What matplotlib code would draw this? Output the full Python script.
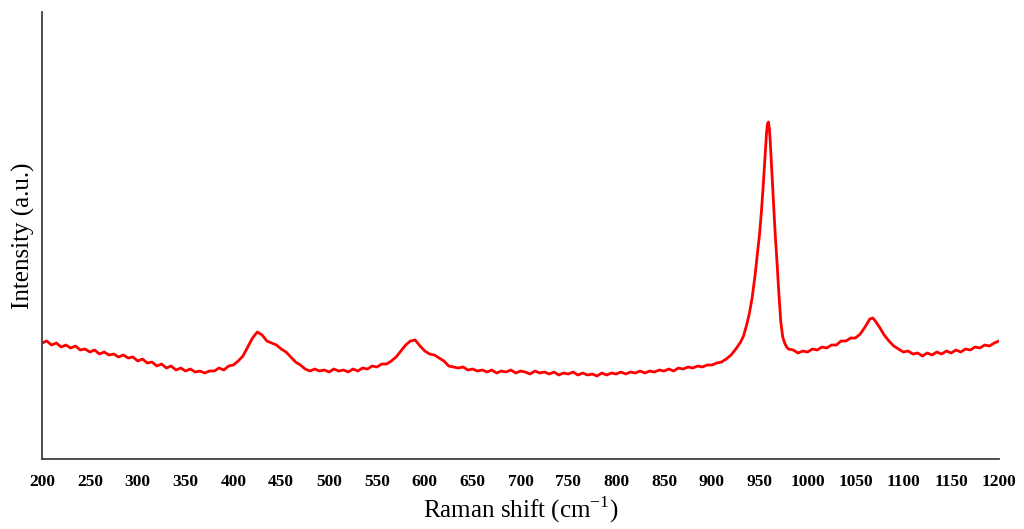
import matplotlib
matplotlib.use("Agg")
import matplotlib.pyplot as plt

plt.rcParams["mathtext.fontset"] = "custom"
plt.rcParams["mathtext.rm"] = "Liberation Serif"

# Raman shift (cm-1)
shift_a = list(range(200, 930, 5))
intens_a = [116, 118, 114, 116, 112, 114, 111, 113, 109, 110, 107, 109, 105, 107, 104, 105, 102, 104, 101, 102,
            98, 100, 96, 97, 93, 95, 91, 93, 89, 91, 88, 90, 87, 88, 86, 88, 88, 91, 89, 93,
            94, 98, 103, 112, 121, 127, 124, 118, 116, 114, 110, 107, 102, 97, 94, 90, 88, 90, 88, 89,
            87, 90, 88, 89, 87, 90, 88, 91, 90, 93, 92, 95, 95, 98, 102, 108, 114, 118, 119, 113,
            108, 105, 104, 101, 98, 93, 92, 91, 92, 89, 90, 88, 89, 87, 89, 86, 88, 87, 89, 86,
            88, 87, 85, 88, 86, 87, 85, 87, 84, 86, 85, 87, 84, 86, 84, 85, 83, 86, 84, 86,
            85, 87, 85, 87, 86, 88, 86, 88, 87, 89, 88, 90, 88, 91, 90, 92, 91, 93, 92, 94,
            94, 96, 97, 100, 104, 110]
shift_b = [930, 933, 936, 939, 942, 945, 948, 950, 952, 954, 956, 957, 958, 959, 960, 961, 962,
           964, 966, 968, 970, 972, 974, 976, 978, 980]
intens_b = [117, 123, 133, 145, 161, 183, 209, 227, 251, 279, 309, 325, 335, 337, 331, 317, 299,
            263, 227, 197, 165, 137, 122, 116, 112, 110]
shift_c = list(range(985, 1070, 5)) + [1068] + list(range(1070, 1205, 5))
intens_c = [109, 106, 108, 107, 110, 109, 112, 111, 114, 114, 118, 118, 121, 121, 125, 132, 140,
            141,
            139, 132, 124, 118, 113, 110, 107, 108, 105, 106, 103, 106, 104, 107, 105, 108, 106, 109,
            107, 110, 109, 112, 111, 114, 113, 116, 118]

raman_shift = shift_a + shift_b + shift_c
intensity = intens_a + intens_b + intens_c
assert len(raman_shift) == len(intensity)

xticks = list(range(200, 1201, 50))

fig = plt.figure(figsize=(10.24, 5.29), dpi=100)
ax = fig.add_axes([0.041, 0.1323, 0.9346, 0.8450])
ax.plot(raman_shift, intensity, color="#ff0000", linewidth=2.0)

ax.set_xlim(200, 1200)
ax.set_ylim(0, 447)
ax.set_xticks(xticks)
ax.set_xticklabels([str(t) for t in xticks], fontfamily="Liberation Serif",
                   fontweight="bold", fontsize=12.5)
ax.tick_params(axis="x", length=0, pad=11)
ax.set_yticks([])
for s in ["top", "right"]:
    ax.spines[s].set_visible(False)
for s in ["left", "bottom"]:
    ax.spines[s].set_color("#404040")
    ax.spines[s].set_linewidth(1.3)

ax.set_xlabel("Raman shift (cm$^{\\mathregular{-1}}$)", fontfamily="Liberation Serif",
              fontsize=18, labelpad=3)
ax.set_ylabel("Intensity (a.u.)", fontfamily="Liberation Serif", fontsize=18, labelpad=5)

fig.savefig("out.png", dpi=100)
